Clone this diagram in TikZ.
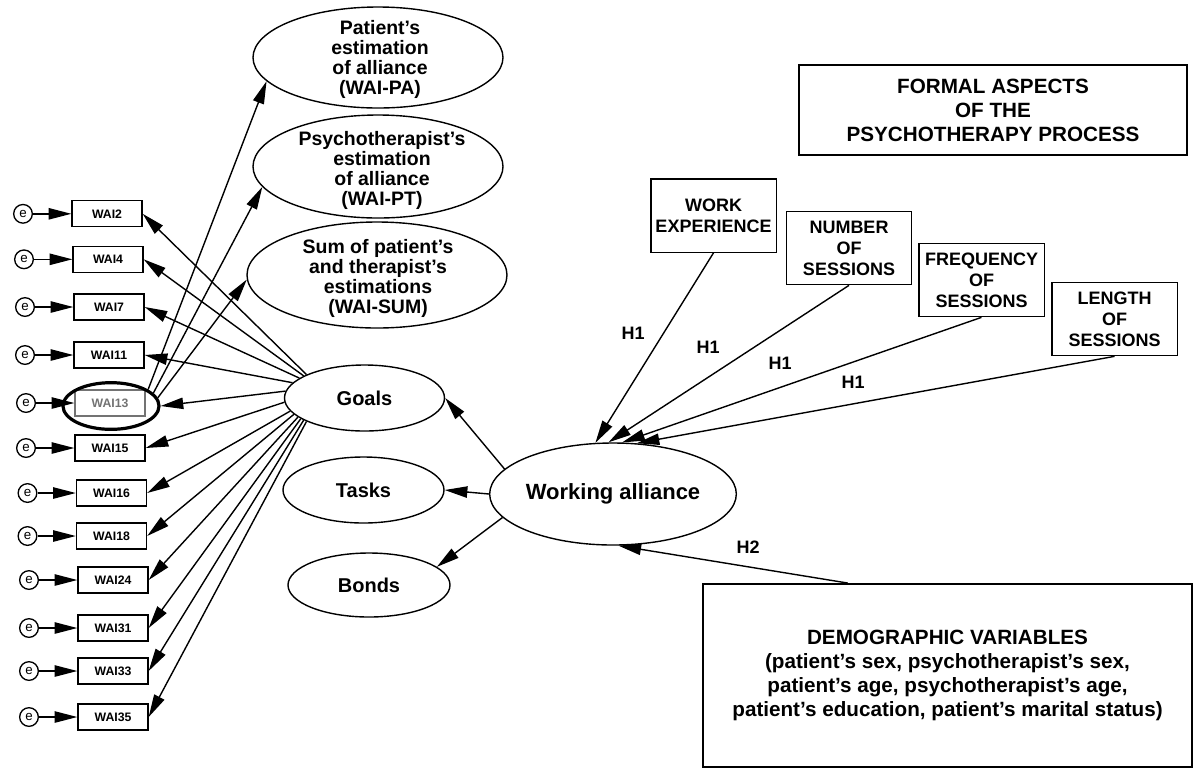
\documentclass[tikz,border=0pt]{standalone}
\usepackage{fontspec}
\setmainfont{Liberation Sans}
\usetikzlibrary{arrows.meta,shapes.geometric,calc}
\begin{document}
\begin{tikzpicture}[x=0.75pt,y=-0.75pt,
  arr/.style={line width=1.05pt,-{Triangle[length=17pt,width=8.5pt]}},
  wbox/.style={draw,line width=1pt,minimum width=52.5pt,minimum height=19.5pt,inner sep=0pt,font=\bfseries\fontsize{9.2}{10}\selectfont},
  err/.style={draw,circle,line width=1pt,minimum size=14pt,inner sep=0pt,font=\fontsize{10}{10}\selectfont},
  lat/.style={draw,ellipse,line width=1.05pt,inner sep=0pt},
  smalllat/.style={font=\bfseries\fontsize{15}{17}\selectfont},
  toptext/.style={align=center,inner sep=0pt,font=\bfseries\fontsize{14.6}{15}\selectfont},
  rbox/.style={draw,line width=1pt,inner sep=2pt,align=center,minimum width=94pt,minimum height=55pt,font=\bfseries\fontsize{13.5}{15.75}\selectfont},
  bigbox/.style={draw,line width=1.4pt,inner sep=2pt,align=center,font=\bfseries\fontsize{15.5}{18}\selectfont},
  hlab/.style={font=\bfseries\fontsize{13.5}{15}\selectfont,inner sep=0pt}
]
\useasboundingbox (0,0) rectangle (1194,769);

% indicator boxes and error terms
\foreach \n/\y/\l in {2/213.8/72,4/259.3/73,7/307/74,11/355/74,15/448/75,16/493/76.5,18/536/76.5,24/580/78,31/628/78,33/671/78,35/717/78}{
  \node[wbox] (w\n) at (\l+35,\y) {WAI\n};
  \node[err] (e\n) at (\l-49,\y) {e};
  \draw[arr] (e\n) -- (w\n);
}
\node[wbox,draw=black!55,text=black!55] (w13) at (110,403) {WAI13};
\node[err] (e13) at (26,403) {e};
\draw[arr] (e13) -- (w13);
\node[draw,ellipse,line width=2.4pt,minimum width=72pt,minimum height=35pt,inner sep=0pt] (hl) at (111,406) {};

% top ellipses
\node[lat,minimum width=187.5pt,minimum height=75.75pt] (pa) at (378,57.5) {};
\node[toptext] (patext) at (380,59) {Patient’s\\estimation\\of alliance\\(WAI-PA)};
\node[lat,minimum width=187.5pt,minimum height=77.25pt] (pt) at (378,166.5) {};
\node[toptext] (pttext) at (382,170) {Psychotherapist’s\\estimation\\of alliance\\(WAI-PT)};
\node[lat,minimum width=195pt,minimum height=79.5pt] (sum) at (377,275) {};
\node[toptext] (sumtext) at (378,278) {Sum of patient’s\\and therapist’s\\estimations\\(WAI-SUM)};

% factors
\node[lat,smalllat,minimum width=120pt,minimum height=49.5pt] (goals) at (364.5,398) {Goals};
\node[lat,smalllat,minimum width=120.75pt,minimum height=49.5pt] (tasks) at (363.5,490) {Tasks};
\node[lat,smalllat,minimum width=121.5pt,minimum height=48pt] (bonds) at (369,585) {Bonds};
\node[lat,font=\bfseries\fontsize{16.5}{18}\selectfont,minimum width=178.5pt,minimum height=76.5pt] (wa) at (613,494) {Working alliance};

% goals to indicators
\foreach \n/\a in {2/158,4/160,7/163,11/168,15/183,16/190,18/193,24/196,31/198,33/200,35/202}{
  \draw[arr] (goals.\a) -- (w\n.east);
}
\draw[arr] (goals.175) -- (hl.east);

% WAI13 to the three estimations
\draw[arr] (hl.24) -- (pa.192);
\draw[arr] (hl.17) -- (pt.190);
\draw[arr] (hl.10) -- (sum.182);

% working alliance to factors
\draw[arr] (wa.167) -- (goals.east);
\draw[arr] (wa.180) -- (tasks.east);
\draw[arr] (wa.192) -- (bonds.15);

% formal aspects
\node[bigbox,minimum width=291pt,minimum height=67.5pt] (formal) at (993,110) {FORMAL ASPECTS\\OF THE\\PSYCHOTHERAPY PROCESS};
\node[rbox] (work) at (713.5,215.5) {WORK\\EXPERIENCE};
\node[rbox] (number) at (849,248) {NUMBER\\OF\\SESSIONS};
\node[rbox] (freq) at (981.5,280) {FREQUENCY\\OF\\SESSIONS};
\node[rbox] (length) at (1114.5,319) {LENGTH\\OF\\SESSIONS};

\draw[arr] (work.south) -- (wa.109);
\draw[arr] (number.south) -- (wa.95);
\draw[arr] (freq.south) -- (wa.80);
\draw[arr] (length.south) -- (wa.65);
\node[hlab] (h1a) at (633,333) {H1};
\node[hlab] (h1b) at (708,347) {H1};
\node[hlab] (h1c) at (780,363) {H1};
\node[hlab] (h1d) at (853,382) {H1};

% demographic
\node[bigbox,minimum width=366.75pt,minimum height=137.25pt] (demo) at (947.5,675.5) {DEMOGRAPHIC VARIABLES\\(patient’s sex, psychotherapist’s sex,\\patient’s age, psychotherapist’s age,\\patient’s education, patient’s marital status)};
\draw[arr] ($(demo.north west)!0.297!(demo.north east)$) -- (wa.276);
\node[hlab] (h2) at (748,547) {H2};
\end{tikzpicture}
\end{document}
